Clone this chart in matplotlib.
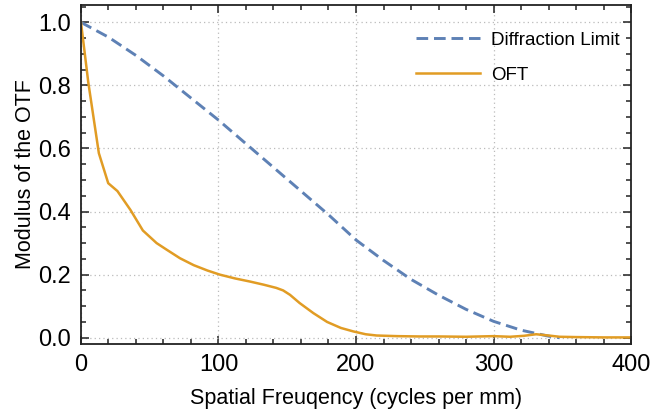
import matplotlib
matplotlib.use("Agg")
import matplotlib.pyplot as plt
from matplotlib.ticker import MultipleLocator, FormatStrFormatter

plt.rcParams.update({
    "font.family": ["Liberation Sans", "DejaVu Sans"],
    "font.size": 15,
})

# diffraction-limited MTF
diff_freq = [0, 20, 40, 60, 80, 100, 120, 140, 160, 180, 200, 220, 240,
             260, 280, 300, 320, 340, 348]
diff_mtf = [1.0, 0.953, 0.895, 0.83, 0.76, 0.69, 0.615, 0.54, 0.465, 0.39,
            0.31, 0.245, 0.185, 0.135, 0.09, 0.052, 0.024, 0.005, 0.0]

# measured OTF modulus
oft_freq = [0, 5.3, 13, 19.8, 26.5, 36, 45, 55, 62, 72, 82, 92, 101, 112,
            123, 133, 142, 147, 152, 159, 169, 179, 189, 198, 207, 215, 230,
            246, 260, 280, 300, 312, 322, 331, 340, 348, 360, 380, 400]
oft_mtf = [1.0, 0.81, 0.585, 0.49, 0.465, 0.405, 0.34, 0.3, 0.28, 0.252,
           0.23, 0.213, 0.2, 0.188, 0.178, 0.168, 0.158, 0.15, 0.136, 0.11,
           0.078, 0.05, 0.031, 0.02, 0.011, 0.007, 0.005, 0.004, 0.004,
           0.003, 0.005, 0.003, 0.006, 0.011, 0.007, 0.003, 0.002, 0.001,
           0.001]

C_BLUE = "#5E81B5"
C_ORANGE = "#E19C24"

fig = plt.figure(figsize=(6.51, 4.17), dpi=100)
ax = fig.add_axes([0.1244, 0.175, 0.9693 - 0.1244, 0.988 - 0.175])

ax.plot(diff_freq, diff_mtf, color=C_BLUE, lw=2.1, ls=(0, (4, 2)),
        label="Diffraction Limit")
ax.plot(oft_freq, oft_mtf, color=C_ORANGE, lw=1.8, label="OFT")

ax.set_xlim(0, 400)
ax.set_ylim(-0.02, 1.055)
ax.xaxis.set_major_locator(MultipleLocator(100))
ax.xaxis.set_minor_locator(MultipleLocator(20))
ax.yaxis.set_major_locator(MultipleLocator(0.2))
ax.yaxis.set_minor_locator(MultipleLocator(0.05))
ax.yaxis.set_major_formatter(FormatStrFormatter("%.1f"))

ax.tick_params(which="both", direction="in", top=True, right=True,
               width=1.1, color="#222222", labelsize=17)
ax.tick_params(which="major", length=6, pad=7)
ax.tick_params(which="minor", length=3.5)
for sp in ax.spines.values():
    sp.set_linewidth(1.3)
    sp.set_color("#222222")

ax.grid(True, which="major", ls=(0, (1, 2.5)), color="#BBBBBB", lw=0.9)

ax.set_xlabel("Spatial Freuqency (cycles per mm)", fontsize=15.5, labelpad=9)
ax.set_ylabel("Modulus of the OTF", fontsize=15.5, labelpad=2)

ax.legend(loc="upper right", frameon=False, fontsize=13.5,
          handlelength=3.4, handletextpad=0.6, labelspacing=0.95,
          bbox_to_anchor=(1.0, 0.955), borderaxespad=0.2)

fig.savefig("out.png", dpi=100)
